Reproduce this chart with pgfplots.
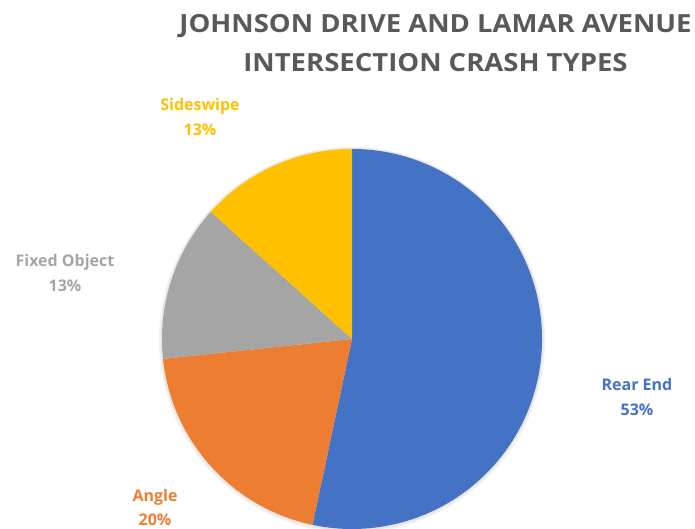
\documentclass[border=0pt]{standalone}
\usepackage{pgfplots}
\usepackage{pgfplotstable}
\pgfplotsset{compat=1.18}
\usepackage{fontspec}
\setmainfont{Open Sans}
\definecolor{cRear}{HTML}{4472C4}
\definecolor{cAngle}{HTML}{ED7D31}
\definecolor{cFixed}{HTML}{A5A5A5}
\definecolor{cSide}{HTML}{FFC000}
\definecolor{cTitle}{HTML}{595959}
\pgfplotstableread{
label value
{Rear End} 8
Angle 3
{Fixed Object} 2
Sideswipe 2
}\crashdata
\begin{document}
\pgfplotstablegetelem{0}{value}\of\crashdata\edef\vA{\pgfplotsretval}%
\pgfplotstablegetelem{1}{value}\of\crashdata\edef\vB{\pgfplotsretval}%
\pgfplotstablegetelem{2}{value}\of\crashdata\edef\vC{\pgfplotsretval}%
\pgfplotstablegetelem{3}{value}\of\crashdata\edef\vD{\pgfplotsretval}%
\pgfmathsetmacro\tot{\vA+\vB+\vC+\vD}%
\pgfmathsetmacro\aA{90}%
\pgfmathsetmacro\aB{\aA-360*\vA/\tot}%
\pgfmathsetmacro\aC{\aB-360*\vB/\tot}%
\pgfmathsetmacro\aD{\aC-360*\vC/\tot}%
\pgfmathsetmacro\aE{\aD-360*\vD/\tot}%
\pgfmathtruncatemacro\pA{round(100*\vA/\tot)}%
\pgfmathtruncatemacro\pB{round(100*\vB/\tot)}%
\pgfmathtruncatemacro\pC{round(100*\vC/\tot)}%
\pgfmathtruncatemacro\pD{round(100*\vD/\tot)}%
\begin{tikzpicture}
\path[use as bounding box] (0,0) rectangle (695pt,529pt);
\begin{axis}[
  at={(0,0)}, anchor=south west,
  scale only axis, width=695pt, height=529pt,
  xmin=0, xmax=695, ymin=0, ymax=529,
  hide axis, clip=false,
]
% soft shadow
\fill[black, opacity=0.05] (axis cs:352,189) circle[radius=193pt];
\fill[black, opacity=0.05] (axis cs:352,189.5) circle[radius=191.5pt];
% slices
\fill[cRear]  (axis cs:352,190) -- ++(\aA:190pt) arc[start angle=\aA, end angle=\aB, radius=190pt] -- cycle;
\fill[cAngle] (axis cs:352,190) -- ++(\aB:190pt) arc[start angle=\aB, end angle=\aC, radius=190pt] -- cycle;
\fill[cFixed] (axis cs:352,190) -- ++(\aC:190pt) arc[start angle=\aC, end angle=\aD, radius=190pt] -- cycle;
\fill[cSide]  (axis cs:352,190) -- ++(\aD:190pt) arc[start angle=\aD, end angle=\aE, radius=190pt] -- cycle;
% labels
\node[align=center, text=cRear, font=\fontsize{16}{25}\selectfont\bfseries] at (axis cs:637,131.5) {Rear End\\\pA\%};
\node[align=center, text=cAngle, font=\fontsize{16}{24}\selectfont\bfseries] at (axis cs:155,21) {Angle\\\pB\%};
\node[align=center, text=cFixed, font=\fontsize{16}{25}\selectfont\bfseries] at (axis cs:65,256) {Fixed Object\\\pC\%};
\node[align=center, text=cSide, font=\fontsize{16}{25}\selectfont\bfseries] at (axis cs:200,412) {Sideswipe\\\pD\%};
% title
\node[align=center, text=cTitle, font=\fontsize{25}{39}\selectfont\bfseries\addfontfeature{FakeStretch=1.1}] at (axis cs:435.5,486) {JOHNSON DRIVE AND LAMAR AVENUE\\INTERSECTION CRASH TYPES};
\end{axis}
\end{tikzpicture}
\end{document}
